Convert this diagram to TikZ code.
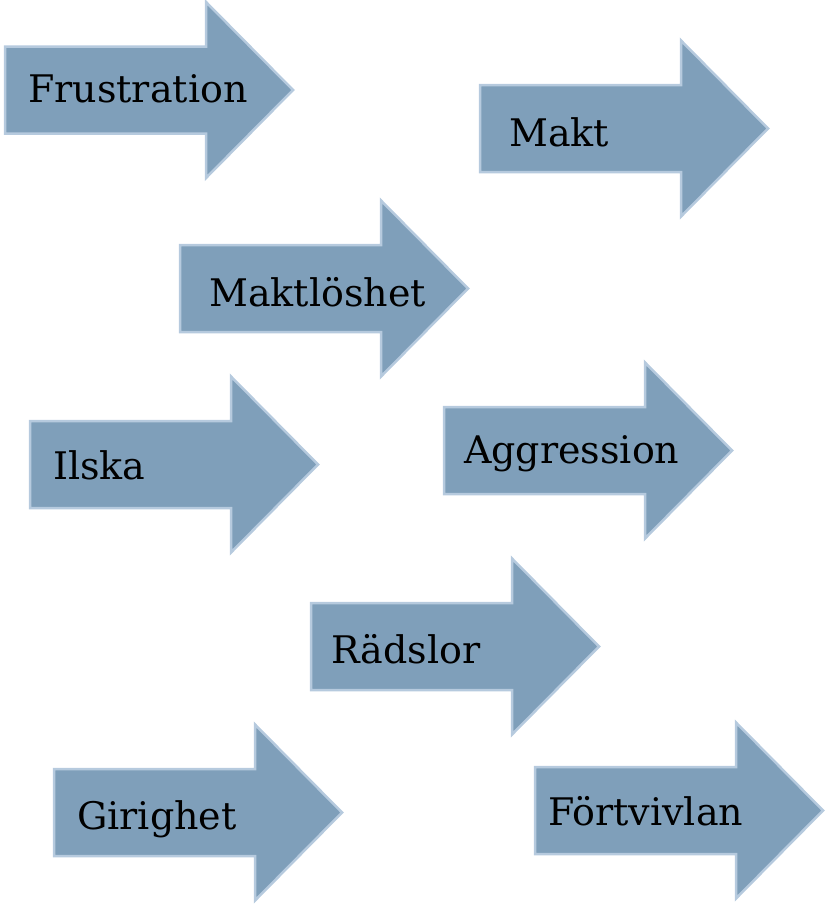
\documentclass[tikz,border=0pt]{standalone}
\usepackage{fontspec}
\setmainfont{DejaVu Serif}
\definecolor{arrowfill}{HTML}{7F9FBA}
\definecolor{arrowedge}{HTML}{B6CADE}
\tikzset{
  arrowshape/.style={fill=arrowfill, draw=arrowedge, line width=2.5pt, line join=miter},
  label/.style={anchor=base west, inner sep=0pt, font=\fontsize{38}{41}\selectfont, text=black}
}
% \blockarrow{name}{left x}{centre y}
\newcommand{\blockarrow}[3]{%
  \draw[arrowshape] (#2,#3-43.5) -- (#2+201,#3-43.5) -- (#2+201,#3-88)
    -- (#2+288,#3) -- (#2+201,#3+88) -- (#2+201,#3+43.5) -- (#2,#3+43.5) -- cycle;
  \coordinate (#1) at (#2,#3);
}
\begin{document}
\begin{tikzpicture}[x=1pt,y=-1pt]
\useasboundingbox (0,0) rectangle (827,908);
\blockarrow{a1}{5}{90}
\blockarrow{a2}{480}{128.5}
\blockarrow{a3}{180}{288.5}
\blockarrow{a4}{30}{464.5}
\blockarrow{a5}{444}{450.5}
\blockarrow{a6}{311}{646.5}
\blockarrow{a7}{54}{812.5}
\blockarrow{a8}{535}{810.5}
\node[label] (t1) at (28,102) {Frustration};
\node[label] (t2) at (509,146) {Makt};
\node[label] (t3) at (209,306) {Maktlöshet};
\node[label] (t4) at (53,479) {Ilska};
\node[label] (t5) at (464,463) {Aggression};
\node[label] (t6) at (331,663) {Rädslor};
\node[label] (t7) at (77,829) {Girighet};
\node[label] (t8) at (548,825) {Förtvivlan};
\end{tikzpicture}
\end{document}
